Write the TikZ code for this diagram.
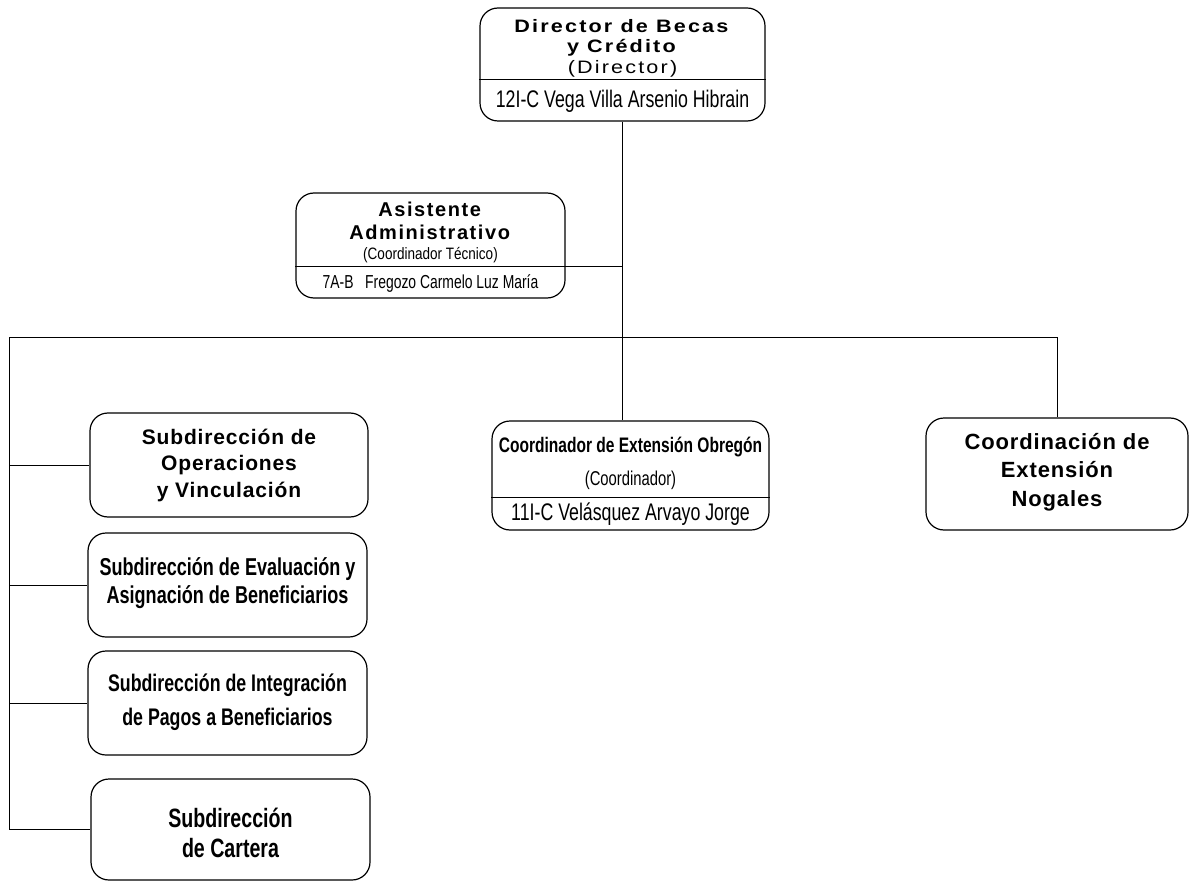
\documentclass[tikz,border=0pt]{standalone}
\usepackage{fontspec}
\setmainfont{Liberation Sans}
\newfontfamily\hdfont[LetterSpace=4]{Liberation Sans}
\newfontfamily\hdasifont[LetterSpace=8]{Liberation Sans}
\newfontfamily\hdwidefont[LetterSpace=12,FakeStretch=1.2]{Liberation Sans}
\newfontfamily\nwfont[FakeStretch=0.82]{Liberation Sans}
\newfontfamily\cdfont[FakeStretch=0.74]{Liberation Sans}
\usetikzlibrary{positioning}

\begin{document}
\begin{tikzpicture}[x=1pt, y=1pt,
    box/.style 2 args={draw, line width=1.2pt, rounded corners=18pt,
        minimum width=#1, minimum height=#2, inner sep=0pt},
    lbl/.style={align=center, inner sep=0pt},
    conn/.style={line width=1pt}]
    \useasboundingbox (0,0) rectangle (1190,-882);

    % boxes
    \node[box={285}{113}] (dir) at (622.5,-64.5) {};
    \node[box={269}{105}] (asi) at (430.5,-245.5) {};
    \node[box={277}{109}] (obr) at (630.5,-475.5) {};
    \node[box={262}{112}] (nog) at (1057,-474) {};
    \node[box={278}{104}] (ope) at (229,-465) {};
    \node[box={279}{104}] (eva) at (227.5,-585) {};
    \node[box={279}{104}] (int) at (227.5,-703) {};
    \node[box={279}{101}] (car) at (230.5,-829.5) {};

    % texts
    \node[lbl, font=\hdwidefont\fontsize{18}{20.5}\selectfont] (dirT) at (622.5,-48)
        {\textbf{Director de Becas}\\\textbf{y Crédito}\\(Director)};
    \node[lbl, font=\cdfont\fontsize{24}{26}\selectfont] (dirN) at (622.5,-101.5)
        {12I-C Vega Villa Arsenio Hibrain};
    \node[lbl, font=\hdasifont\fontsize{20}{23}\selectfont] (asiT) at (430.5,-221)
        {\textbf{Asistente}\\\textbf{Administrativo}};
    \node[lbl, font=\nwfont\fontsize{16.5}{18}\selectfont] (asiR) at (430.5,-255)
        {(Coordinador Técnico)};
    \node[lbl, font=\cdfont\fontsize{18.8}{20}\selectfont] (asiN) at (430.5,-283.5)
        {7A-B\ \ \ Fregozo Carmelo Luz María};
    \node[lbl, font=\cdfont\fontsize{21}{33}\selectfont] (obrT) at (630.5,-463)
        {\textbf{Coordinador de Extensión Obregón}\\\fontsize{20}{33}\selectfont(Coordinador)};
    \node[lbl, font=\cdfont\fontsize{24}{26}\selectfont] (obrN) at (630.5,-514.5)
        {11I-C Velásquez Arvayo Jorge};
    \node[lbl, font=\hdfont\bfseries\fontsize{22}{28.5}\selectfont] (nogT) at (1057,-472)
        {Coordinación de\\Extensión\\Nogales};
    \node[lbl, font=\hdfont\bfseries\fontsize{21}{26.5}\selectfont] (opeT) at (229,-465)
        {Subdirección de\\Operaciones\\y Vinculación};
    \node[lbl, font=\cdfont\bfseries\fontsize{24.4}{28}\selectfont] (evaT) at (227.5,-583)
        {Subdirección de Evaluación y\\Asignación de Beneficiarios};
    \node[lbl, font=\cdfont\bfseries\fontsize{24}{34}\selectfont] (intT) at (227.5,-702)
        {Subdirección de Integración\\de Pagos a Beneficiarios};
    \node[lbl, font=\cdfont\bfseries\fontsize{26.5}{30}\selectfont] (carT) at (230.5,-833)
        {Subdirección\\de Cartera};

    % dividers
    \draw[line width=1.2pt] ([yshift=-72pt]dir.north west) -- ([yshift=-72pt]dir.north east);
    \draw[line width=1.2pt] ([yshift=-77pt]obr.north west) -- ([yshift=-77pt]obr.north east);
    \coordinate (asiD) at ([yshift=-74pt]asi.north east);
    \draw[line width=1.2pt] ([yshift=-74pt]asi.north west) -- (asiD);

    % connectors
    \coordinate (busL) at (9,-337);
    \draw[conn] (dir.south) -- (dir.south |- obr.north);
    \draw[conn] (asiD) -- (asiD -| dir.south);
    \draw[conn] (busL) -- (busL -| nog.north) -- (nog.north);
    \draw[conn] (busL) -- (busL |- car.west) -- (car.west);
    \foreach \n in {ope,eva,int}
        \draw[conn] (busL |- \n.west) -- (\n.west);
\end{tikzpicture}
\end{document}
